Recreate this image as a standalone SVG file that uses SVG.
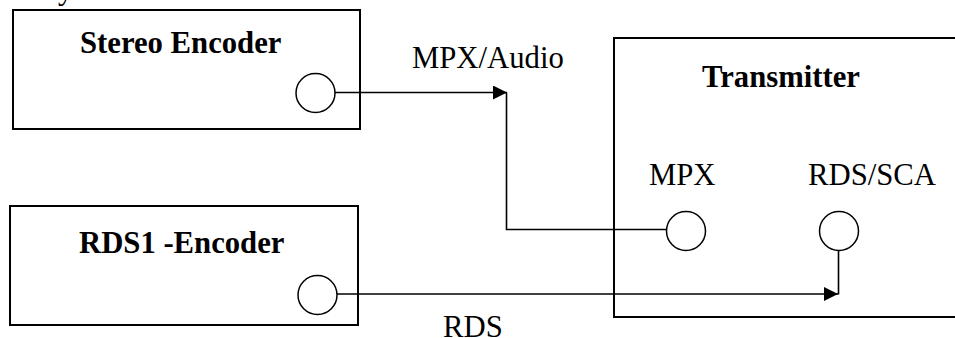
<svg xmlns="http://www.w3.org/2000/svg" width="955" height="338" viewBox="0 0 955 338">
  <style>
    .box { fill: none; stroke: #000; stroke-width: 2; }
    .port { fill: #fff; stroke: #000; stroke-width: 1.5; }
    .conn { fill: none; stroke: #000; stroke-width: 1.6; }
    .title { font-family: "Liberation Serif", "Times New Roman", serif; font-size: 30.7px; font-weight: bold; fill: #000; }
    .lbl { font-family: "Liberation Serif", "Times New Roman", serif; font-size: 30.7px; fill: #000; }
  </style>
  <defs>
    <marker id="arrow" markerUnits="userSpaceOnUse" markerWidth="15" markerHeight="15" refX="14" refY="7" orient="auto">
      <path d="M0,0 L14,7 L0,14 z" fill="#000"/>
    </marker>
  </defs>
  <rect width="955" height="338" fill="#fff"/>
  <text class="lbl" x="58" y="-1">y</text>

  <g id="stereo-encoder">
    <rect class="box" x="13" y="10" width="347" height="119"/>
    <text class="title" x="80" y="53">Stereo Encoder</text>
    <circle class="port" cx="315.5" cy="93" r="19.5"/>
  </g>

  <g id="rds1-encoder">
    <rect class="box" x="10" y="206" width="348" height="119"/>
    <text class="title" x="79" y="253">RDS1 -Encoder</text>
    <circle class="port" cx="317.5" cy="295" r="19.5"/>
  </g>

  <g id="transmitter">
    <rect class="box" x="614" y="38" width="400" height="279"/>
    <text class="title" x="702" y="87">Transmitter</text>
    <text class="lbl" x="649" y="185">MPX</text>
    <text class="lbl" x="808" y="185">RDS/SCA</text>
    <circle class="port" cx="686" cy="231" r="19.5"/>
    <circle class="port" cx="839" cy="231" r="19.5"/>
  </g>

  <g id="connectors">
    <path class="conn" d="M335,92.5 H507" marker-end="url(#arrow)"/>
    <path class="conn" d="M506.5,92.5 V229.5 H666.5"/>
    <text class="lbl" x="412" y="68">MPX/Audio</text>
    <path class="conn" d="M337,294 H838" marker-end="url(#arrow)"/>
    <path class="conn" d="M838.5,294.5 V250.5"/>
    <text class="lbl" x="443" y="337">RDS</text>
  </g>
</svg>
